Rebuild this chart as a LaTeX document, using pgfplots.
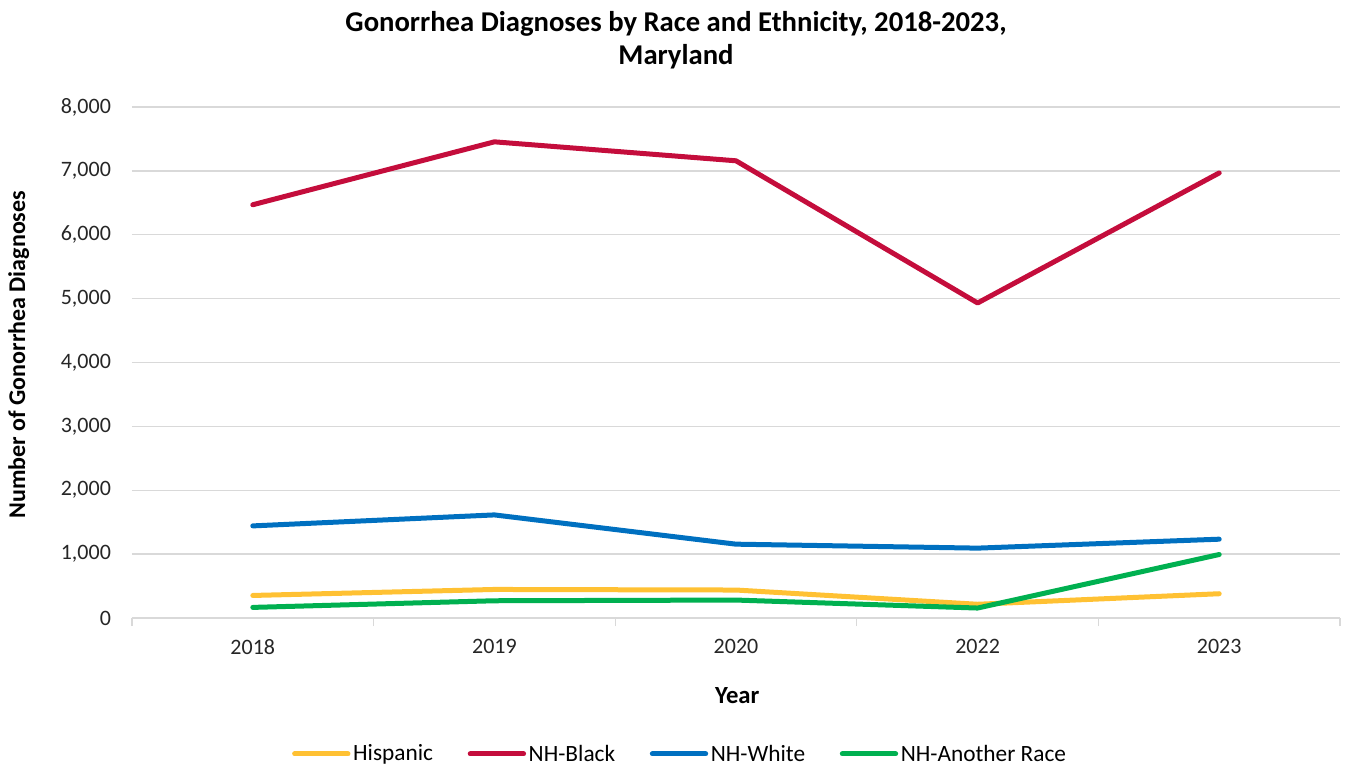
\documentclass[border=0pt]{standalone}
\usepackage{pgfplots}
\pgfplotsset{compat=1.18}
\usepackage{fontspec}
\setmainfont{Carlito}
\definecolor{hisp}{HTML}{FFC133}
\definecolor{blk}{HTML}{C40D3C}
\definecolor{wht}{HTML}{0070C0}
\definecolor{oth}{HTML}{00B050}
\definecolor{gridc}{HTML}{D9D9D9}
\begin{document}
\begin{tikzpicture}
\useasboundingbox (-99pt,-113.25pt) rectangle (910.5pt,463.5pt);
\begin{axis}[
  at={(0pt,0pt)}, anchor=south west,
  scale only axis, width=906pt, height=383.25pt,
  xmin=-0.5, xmax=4.5, ymin=0, ymax=8000,
  xtick={0,1,2,3,4},
  xticklabels={2018,2019,2020,2022,2023},
  minor xtick={-0.5,0.5,1.5,2.5,3.5,4.5},
  major x tick style={draw=none},
  minor x tick style={draw=gridc, line width=1pt},
  minor tick length=6pt,
  tick align=outside,
  ytick={0,1000,...,8000},
  ytick style={draw=none},
  ymajorgrids, grid style={gridc, line width=1pt},
  axis x line*=bottom, axis y line*=left,
  x axis line style={gridc, line width=1pt, -},
  y axis line style={draw=none},
  scaled y ticks=false,
  /pgf/number format/.cd, 1000 sep={,}, assume math mode=true,
  /pgfplots/.cd,
  tick label style={font=\fontsize{16.5}{19}\selectfont, text=black!85},
  yticklabel style={xshift=-8pt},
  xticklabel style={yshift=-8pt},
  legend columns=4,
  legend style={draw=none, at={(0.454,-0.266)}, anchor=center,
    font=\fontsize{17.5}{20}\selectfont, column sep=0pt,
    /tikz/every even column/.append style={column sep=24pt},
    /tikz/every odd column/.append style={column sep=0pt}},
  legend image code/.code={\draw[#1, line cap=round] (0pt,0pt) -- (40pt,0pt);},
  every axis plot/.append style={line width=3.75pt, line join=round, line cap=round},
  clip=false,
]
\addplot[hisp] coordinates {(0,353) (1,447) (2,438) (3,215) (4,380)};
\addlegendentry{Hispanic}
\addplot[blk] coordinates {(0,6470) (1,7455) (2,7158) (3,4932) (4,6968)};
\addlegendentry{NH-Black}
\addplot[wht] coordinates {(0,1442) (1,1614) (2,1156) (3,1094) (4,1234)};
\addlegendentry{NH-White}
\addplot[oth] coordinates {(0,166) (1,270) (2,281) (3,156) (4,994)};
\addlegendentry{NH-Another Race}
\end{axis}
\node[font=\bfseries\fontsize{21.5}{24.75}\selectfont, align=center] at (408pt,433pt) {Gonorrhea Diagnoses by Race and Ethnicity, 2018-2023,\\Maryland};
\node[font=\bfseries\fontsize{18.5}{20}\selectfont] at (454pt,-58pt) {Year};
\node[font=\bfseries\fontsize{18}{20}\selectfont, rotate=90] at (-85pt,197.5pt) {Number of Gonorrhea Diagnoses};
\end{tikzpicture}
\end{document}
